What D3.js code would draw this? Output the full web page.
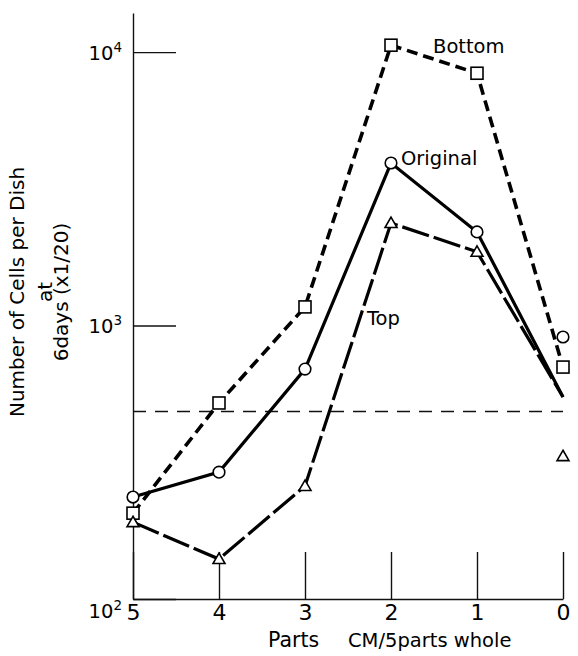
<!DOCTYPE html>
<html>
<head>
<meta charset="utf-8">
<script src="https://cdn.jsdelivr.net/npm/d3@7/dist/d3.min.js"></script>
<style>
    html, body { margin: 0; padding: 0; background: #fff; }
    svg text { font-family: "DejaVu Sans", sans-serif; fill: #000; }
</style>
</head>
<body>
<div id="render-zone"></div>
<script>
/* chart data */
var parts      = [5, 4, 3, 2, 1, 0];
var bottomVals = [206, 521, 1170, 10600, 8370, 705];
var origVals   = [236, 291, 693, 3930, 2200, 548];
var topVals    = [191, 140, 259, 2370, 1860, 548];

/* loose points at "whole" that sit off the lines */
var looseOrig  = [{ part: 0, value: 908 }];
var looseTop   = [{ part: 0, value: 333 }];

var refLevel   = 485;               // dashed horizontal level
var yTicks     = [100, 1000, 10000];
var yExponents = ["2", "3", "4"];
var seriesNames = ["Bottom", "Original", "Top"];

(function( w ) {

"use strict";

var _d = {
        width : 578,
        height : 656,
        xRange : [133, 563],
        yRange : [599, 13],
        yDomain : [100, 13900]
    },
    svg, x, y, line;

svg = d3.select("#render-zone").append("svg")
    .attr("width", _d.width)
    .attr("height", _d.height);

x = d3.scaleLinear().domain([5, 0]).range(_d.xRange);
y = d3.scaleLog().domain(_d.yDomain).range(_d.yRange);

/* y axis: ticks point right into the plot */
var yAxis = svg.append("g")
    .attr("transform", "translate(" + _d.xRange[0] + ",0)")
    .call(d3.axisLeft(y).tickValues(yTicks).tickSizeInner(-43).tickSizeOuter(0).tickPadding(11).tickFormat(""));

yAxis.selectAll("path, line").attr("stroke", "#111").attr("stroke-width", 1.4);
yAxis.selectAll(".tick text")
    .attr("font-size", 19.5)
    .attr("dy", function( d ){ return d === 100 ? "18" : "7"; })
    .each(function( d, i ){
        var t = d3.select(this);
        t.append("tspan").text("10");
        t.append("tspan").attr("font-size", 13.5).attr("dy", -8).text(yExponents[i]);
    });

/* x axis: short ticks going up */
var xAxis = svg.append("g")
    .attr("transform", "translate(0," + _d.yRange[0] + ")")
    .call(d3.axisBottom(x).tickValues(parts).tickSizeInner(-47).tickSizeOuter(0).tickPadding(5).tickFormat(d3.format("d")));

xAxis.selectAll("path, line").attr("stroke", "#111").attr("stroke-width", 1.4);
xAxis.selectAll(".tick text").attr("font-size", 22).attr("fill", "#000");

/* dashed reference level */
svg.append("line")
    .attr("x1", x(5)).attr("x2", x(0))
    .attr("y1", y(refLevel)).attr("y2", y(refLevel))
    .attr("stroke", "#111").attr("stroke-width", 1.4)
    .attr("stroke-dasharray", "13,9");

line = d3.line()
    .x(function( d, i ){ return x(parts[i]); })
    .y(function( d ){ return y(d); });

/* series lines */
svg.append("path").datum(topVals)
    .attr("d", line).attr("fill", "none")
    .attr("stroke", "#000").attr("stroke-width", 3.2)
    .attr("stroke-dasharray", "28,5");

svg.append("path").datum(origVals)
    .attr("d", line).attr("fill", "none")
    .attr("stroke", "#000").attr("stroke-width", 3.2);

svg.append("path").datum(bottomVals)
    .attr("d", line).attr("fill", "none")
    .attr("stroke", "#000").attr("stroke-width", 3.6)
    .attr("stroke-dasharray", "11,6");

/* markers */
var marks = svg.append("g").attr("fill", "#fff").attr("stroke", "#000").attr("stroke-width", 1.6);

marks.selectAll("rect").data(bottomVals).enter().append("rect")
    .attr("x", function( d, i ){ return x(parts[i]) - 6; })
    .attr("y", function( d ){ return y(d) - 6; })
    .attr("width", 12).attr("height", 12);

var origPts = origVals.slice(0, 5).map(function( v, i ){ return { part: parts[i], value: v }; }).concat(looseOrig);
marks.selectAll("circle").data(origPts).enter().append("circle")
    .attr("cx", function( d ){ return x(d.part); })
    .attr("cy", function( d ){ return y(d.value); })
    .attr("r", 5.8);

var topPts = topVals.slice(0, 5).map(function( v, i ){ return { part: parts[i], value: v }; }).concat(looseTop);
marks.selectAll("path.tri").data(topPts).enter().append("path")
    .attr("class", "tri")
    .attr("d", d3.symbol().type(d3.symbolTriangle).size(62))
    .attr("transform", function( d ){ return "translate(" + x(d.part) + "," + (y(d.value) + 1) + ")"; });

/* series labels */
var labels = svg.append("g").attr("font-size", 19.5);
labels.append("text").attr("x", 433).attr("y", 53).text(seriesNames[0]);
labels.append("text").attr("x", 401).attr("y", 165).text(seriesNames[1]);
labels.append("text").attr("x", 367).attr("y", 325).text(seriesNames[2]);

/* axis titles */
svg.append("text").attr("x", 268).attr("y", 647).attr("font-size", 20.5).text("Parts");
svg.append("text").attr("x", 348).attr("y", 647).attr("font-size", 19.5).text("CM/5parts whole");

var yTitle = svg.append("g").attr("font-size", 20).attr("text-anchor", "middle");
[["Number of Cells per Dish", 24], ["at", 52], ["6days (x1/20)", 68]].forEach(function( l ){
    yTitle.append("text")
        .attr("transform", "translate(" + l[1] + ",292) rotate(-90)")
        .text(l[0]);
});

})( window );
</script>
</body>
</html>
